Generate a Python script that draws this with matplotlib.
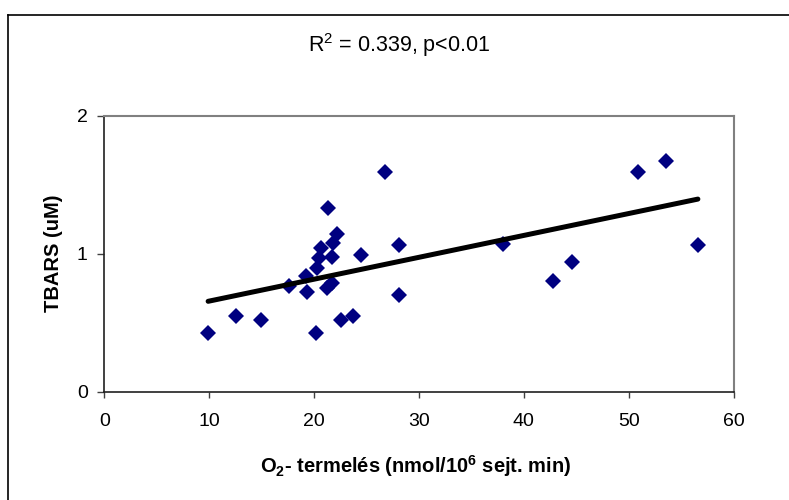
import numpy as np
import matplotlib
matplotlib.use("Agg")
import matplotlib.pyplot as plt
from matplotlib.lines import Line2D

plt.rcParams['font.family'] = ['Liberation Sans', 'DejaVu Sans']
plt.rcParams['mathtext.fontset'] = 'custom'
plt.rcParams['mathtext.rm'] = 'Liberation Sans'
plt.rcParams['mathtext.bf'] = 'Liberation Sans:bold'

# O2- termelés vs TBARS
o2 = [9.9, 12.6, 14.9, 17.6, 19.3, 19.2, 20.2, 20.3, 20.5, 20.7, 21.3, 21.7,
      21.8, 22.2, 21.2, 21.7, 22.6, 23.7, 24.5, 26.8, 28.1, 28.1, 38.0, 42.8,
      44.6, 50.9, 53.6, 56.6]
tbars = [0.43, 0.55, 0.52, 0.77, 0.72, 0.84, 0.43, 0.90, 0.97, 1.04, 1.33, 0.98,
         1.08, 1.14, 0.75, 0.79, 0.52, 0.55, 0.99, 1.59, 1.06, 0.70, 1.07, 0.80,
         0.94, 1.59, 1.67, 1.06]
x_ticks = [0, 10, 20, 30, 40, 50, 60]
y_ticks = [0, 1, 2]

fig = plt.figure(figsize=(7.89, 5.0), dpi=100)
ax = fig.add_axes([0.1322, 0.216, 0.7975, 0.553])

x = np.array(o2)
y = np.array(tbars)
ax.plot(x, y, linestyle='none', marker='D', markersize=8.5,
        color='#000080', markeredgewidth=0, zorder=2)

# linear trend
k, b = np.polyfit(x, y, 1)
xs = np.array([x.min(), x.max()])
ax.plot(xs, k * xs + b, color='black', linewidth=3.6,
        solid_capstyle='round', zorder=3)

ax.set_xlim(0, 60)
ax.set_ylim(0, 2)
ax.set_xticks(x_ticks)
ax.set_yticks(y_ticks)
ax.tick_params(labelsize=14, width=1, color='#404040', direction='out')
ax.tick_params(axis='x', length=4, pad=11)
ax.tick_params(axis='y', length=5, pad=7)

for s in ['top', 'right']:
    ax.spines[s].set_color('#808080')
    ax.spines[s].set_linewidth(1.5)
for s in ['left', 'bottom']:
    ax.spines[s].set_color('#202020')
    ax.spines[s].set_linewidth(1.2)

ax.set_xlabel(r'O$_\mathbf{2}$- termelés (nmol/10$^\mathbf{6}$ sejt. min)', fontsize=14.5,
              fontweight='bold')
ax.set_ylabel('TBARS (uM)', fontsize=14.5, fontweight='bold')
ax.xaxis.set_label_coords(0.495, -0.222)
ax.yaxis.set_label_coords(-0.066, 0.5)

fig.text(0.506, 0.91, 'R$^2$ = 0.339, p<0.01', fontsize=15.5, ha='center', va='center')

# outer chart frame
fig.add_artist(Line2D([8 / 789, 8 / 789], [0, 1 - 15 / 500], color='black', linewidth=1.2))
fig.add_artist(Line2D([8 / 789, 1], [1 - 15 / 500, 1 - 15 / 500], color='black', linewidth=1.2))

fig.savefig('out.png', dpi=100)
